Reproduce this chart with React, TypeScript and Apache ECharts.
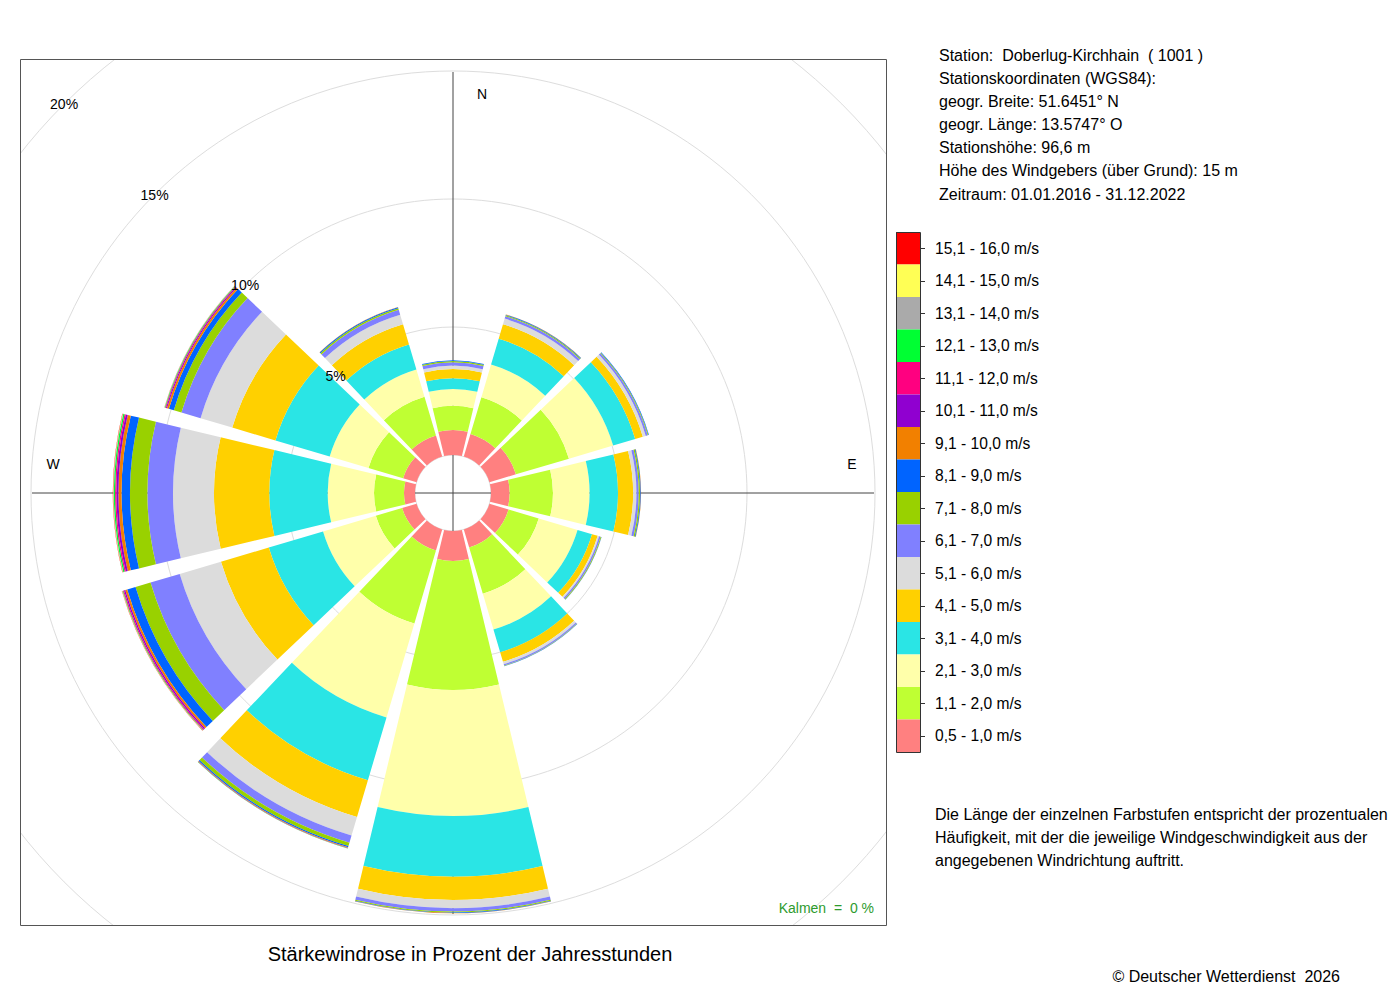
import React, { useEffect, useRef } from 'react';
import * as echarts from 'echarts';

// Wind directions (12 sectors, 30° each), clockwise from north
const directions = ['N', 'NNO', 'ONO', 'O', 'OSO', 'SSO', 'S', 'SSW', 'WSW', 'W', 'WNW', 'NNW'];

// Speed classes (m/s) and their colours
const speedClasses = [
  '0,5 - 1,0 m/s', '1,1 - 2,0 m/s', '2,1 - 3,0 m/s', '3,1 - 4,0 m/s',
  '4,1 - 5,0 m/s', '5,1 - 6,0 m/s', '6,1 - 7,0 m/s', '7,1 - 8,0 m/s',
  '8,1 - 9,0 m/s', '9,1 - 10,0 m/s', '10,1 - 11,0 m/s', '11,1 - 12,0 m/s',
  '12,1 - 13,0 m/s', '13,1 - 14,0 m/s', '14,1 - 15,0 m/s', '15,1 - 16,0 m/s',
];
const classColors = [
  '#FF8080', '#BFFF33', '#FFFFAA', '#2AE5E5',
  '#FFD000', '#DCDCDC', '#8080FF', '#99D100',
  '#0064FF', '#F28000', '#9000D0', '#FF0080',
  '#00FF33', '#AAAAAA', '#FFFF55', '#FF0000',
];

// Percent of yearly hours per direction (N … NNW) for each speed class
const v05_10 = [0.98, 0.92, 1.08, 0.73, 0.78, 0.74, 1.17, 0.86, 0.59, 0.43, 0.55, 0.86];
const v11_20 = [0.94, 1.5, 2.16, 1.69, 1.23, 1.88, 5.04, 2.97, 1.07, 1.17, 1.41, 1.58];
const v21_30 = [0.66, 1.33, 1.8, 1.43, 1.58, 1.46, 4.92, 3.83, 2.15, 1.81, 1.58, 1.11];
const v31_40 = [0.42, 1.05, 0.9, 1.11, 0.59, 0.92, 2.37, 2.56, 2.21, 2.28, 2.21, 1.02];
const v41_50 = [0.36, 0.59, 0.31, 0.59, 0.23, 0.39, 0.91, 1.5, 1.95, 2.16, 1.76, 0.82];
const v51_60 = [0.13, 0.23, 0.12, 0.13, 0.06, 0.1, 0.32, 0.75, 1.68, 1.6, 1.29, 0.39];
const v61_70 = [0.13, 0.1, 0.08, 0.09, 0.06, 0.05, 0.13, 0.29, 1.19, 1.0, 0.78, 0.2];
const v71_80 = [0.05, 0.04, 0.03, 0.05, 0.03, 0.02, 0.04, 0.14, 0.61, 0.68, 0.31, 0.06];
const v81_90 = [0.03, 0.02, 0.02, 0.03, 0.01, 0.01, 0.02, 0.05, 0.34, 0.33, 0.2, 0.04];
const v91_100 = [0, 0.01, 0, 0.01, 0, 0, 0.01, 0.02, 0.08, 0.12, 0.08, 0.01];
const v101_110 = [0, 0, 0, 0, 0, 0, 0, 0.01, 0.05, 0.08, 0.04, 0];
const v111_120 = [0, 0, 0, 0, 0, 0, 0, 0.01, 0.04, 0.05, 0.03, 0];
const v121_130 = [0, 0, 0, 0, 0, 0, 0, 0.01, 0.02, 0.05, 0.02, 0];
const v131_140 = [0, 0, 0, 0, 0, 0, 0, 0, 0.01, 0.02, 0.01, 0];
const v141_150 = [0, 0, 0, 0, 0, 0, 0, 0, 0.01, 0.01, 0.005, 0];
const v151_160 = [0, 0, 0, 0, 0, 0, 0, 0, 0.01, 0.01, 0.005, 0];

const classValues = [
  v05_10, v11_20, v21_30, v31_40, v41_50, v51_60, v61_70, v71_80,
  v81_90, v91_100, v101_110, v111_120, v121_130, v131_140, v141_150, v151_160,
];

// Radius axis (percent rings)
const ringMax = 20;
const ringStep = 5;

const stationInfo = [
  'Station:  Doberlug-Kirchhain  ( 1001 )',
  'Stationskoordinaten (WGS84):',
  'geogr. Breite: 51.6451° N',
  'geogr. Länge: 13.5747° O',
  'Stationshöhe: 96,6 m',
  'Höhe des Windgebers (über Grund): 15 m',
  'Zeitraum: 01.01.2016 - 31.12.2022',
];
const noteLines = [
  'Die Länge der einzelnen Farbstufen entspricht der prozentualen',
  'Häufigkeit, mit der die jeweilige Windgeschwindigkeit aus der',
  'angegebenen Windrichtung auftritt.',
];
const chartTitle = 'Stärkewindrose in Prozent der Jahresstunden';
const calmText = 'Kalmen  =  0 %';
const copyrightText = '© Deutscher Wetterdienst  2026';
const compassLabels = [
  { text: 'N', x: 482, y: 94 },
  { text: 'E', x: 852, y: 464 },
  { text: 'W', x: 53, y: 464 },
];

const FONT = 'Liberation Sans, Arial, Helvetica, sans-serif';
const CX = 453;
const CY = 493;
const R0 = 38;
const R1 = 550;
const BOX = { x: 20, y: 59, w: 866, h: 866 };
const LEG = { x: 896, y: 232, w: 24, h: 32.5 };

function buildOption() {
  const graphic: any[] = [];
  // masks outside the plot box (clip rings)
  const maskStyle = { fill: '#ffffff' };
  graphic.push(
    { type: 'rect', z: 3, silent: true, shape: { x: 0, y: 0, width: 1400, height: BOX.y }, style: maskStyle },
    { type: 'rect', z: 3, silent: true, shape: { x: 0, y: BOX.y + BOX.h, width: 1400, height: 1000 - BOX.y - BOX.h }, style: maskStyle },
    { type: 'rect', z: 3, silent: true, shape: { x: 0, y: 0, width: BOX.x, height: 1000 }, style: maskStyle },
    { type: 'rect', z: 3, silent: true, shape: { x: BOX.x + BOX.w, y: 0, width: 1400 - BOX.x - BOX.w, height: 1000 }, style: maskStyle },
  );
  // plot box
  graphic.push({
    type: 'rect', z: 4, silent: true,
    shape: { x: BOX.x + 0.5, y: BOX.y + 0.5, width: BOX.w, height: BOX.h },
    style: { fill: 'none', stroke: '#555555', lineWidth: 1 },
  });
  // legend frame and ticks
  const n = speedClasses.length;
  graphic.push({
    type: 'rect', z: 8, silent: true,
    shape: { x: LEG.x + 0.5, y: LEG.y + 0.5, width: LEG.w, height: LEG.h * n },
    style: { fill: 'none', stroke: '#333333', lineWidth: 1 },
  });
  for (let k = 0; k < n; k++) {
    const y = Math.round(LEG.y + LEG.h * (k + 0.5)) + 0.5;
    graphic.push({
      type: 'line', z: 8, silent: true,
      shape: { x1: LEG.x + LEG.w, y1: y, x2: LEG.x + LEG.w + 5, y2: y },
      style: { stroke: '#333333', lineWidth: 1 },
    });
  }
  // compass letters
  compassLabels.forEach((c) => {
    graphic.push({
      type: 'text', z: 10, silent: true, x: c.x, y: c.y,
      style: { text: c.text, fontSize: 14, fontFamily: FONT, fill: '#000', align: 'center', verticalAlign: 'middle' },
    });
  });
  // station info
  stationInfo.forEach((t, i) => {
    graphic.push({
      type: 'text', z: 10, silent: true, x: 939, y: 55 + i * 23.17,
      style: { text: t, fontSize: 16, fontFamily: FONT, fill: '#000', align: 'left', verticalAlign: 'middle' },
    });
  });
  noteLines.forEach((t, i) => {
    graphic.push({
      type: 'text', z: 10, silent: true, x: 935, y: 814 + i * 23,
      style: { text: t, fontSize: 16, fontFamily: FONT, fill: '#000', align: 'left', verticalAlign: 'middle' },
    });
  });
  graphic.push({
    type: 'text', z: 10, silent: true, x: 874, y: 908,
    style: { text: calmText, fontSize: 14, fontFamily: FONT, fill: '#2E9B2E', align: 'right', verticalAlign: 'middle' },
  });
  graphic.push({
    type: 'text', z: 10, silent: true, x: 1340, y: 976,
    style: { text: copyrightText, fontSize: 16, fontFamily: FONT, fill: '#000', align: 'right', verticalAlign: 'middle' },
  });

  return {
    animation: false,
    backgroundColor: '#ffffff',
    textStyle: { fontFamily: FONT },
    title: {
      text: chartTitle,
      left: 470,
      top: 944,
      textAlign: 'center',
      padding: 0,
      textStyle: { fontSize: 20, fontWeight: 'normal', color: '#000', fontFamily: FONT },
    },
    polar: [
      { center: [CX, CY], radius: [R0, R1] },
      { center: [CX, CY], radius: [R0, R1] },
      { center: [CX, CY], radius: [0, 421] },
    ],
    angleAxis: [
      {
        polarIndex: 0, type: 'category', data: directions, startAngle: 105, clockwise: true,
        boundaryGap: true,
        axisLine: { show: false }, axisTick: { show: false }, axisLabel: { show: false },
        splitLine: { show: false }, splitArea: { show: false },
      },
      {
        polarIndex: 1, type: 'value', min: 0, max: 360, startAngle: 135,
        axisLine: { show: false }, axisTick: { show: false }, axisLabel: { show: false },
        splitLine: { show: false },
      },
      {
        polarIndex: 2, type: 'value', min: 0, max: 360, interval: 90, startAngle: 90, clockwise: true,
        axisLine: { show: false }, axisTick: { show: false }, axisLabel: { show: false },
        splitLine: { show: true, lineStyle: { color: '#444444', width: 1 } },
      },
    ],
    radiusAxis: [
      {
        polarIndex: 0, type: 'value', min: 0, max: ringMax, interval: ringStep,
        axisLine: { show: false }, axisTick: { show: false }, axisLabel: { show: false },
        splitLine: { show: true, lineStyle: { color: '#dddddd', width: 1 } },
      },
      {
        polarIndex: 1, type: 'value', min: 0, max: ringMax, interval: ringStep, z: 10,
        axisLine: { show: false }, axisTick: { show: false }, splitLine: { show: false },
        axisLabel: {
          show: true, showMinLabel: false, formatter: '{value}%', margin: 0,
          align: 'center', verticalAlign: 'middle', rotate: 0,
          fontSize: 14, color: '#000', fontFamily: FONT,
        },
      },
      {
        polarIndex: 2, type: 'value', min: 0, max: 1,
        axisLine: { show: false }, axisTick: { show: false }, axisLabel: { show: false },
        splitLine: { show: false },
      },
    ],
    legend: {
      data: [...speedClasses].reverse(),
      orient: 'vertical',
      left: LEG.x,
      top: LEG.y,
      padding: 0,
      itemWidth: LEG.w,
      itemHeight: LEG.h,
      itemGap: 0,
      icon: 'rect',
      selectedMode: false,
      textStyle: { fontSize: 15.6, color: '#000', fontFamily: FONT, padding: [0, 0, 0, 10] },
    },
    series: speedClasses.map((name, i) => ({
      type: 'bar',
      name,
      coordinateSystem: 'polar',
      polarIndex: 0,
      stack: 'wind',
      barCategoryGap: '10%',
      data: classValues[i],
      itemStyle: { color: classColors[i] },
      emphasis: { disabled: true },
      silent: true,
    })),
    graphic,
  };
}

export default function App() {
  const ref = useRef<HTMLDivElement>(null);
  useEffect(() => {
    document.body.style.margin = '0';
    const chart = echarts.init(ref.current as HTMLDivElement, null, { renderer: 'svg' });
    chart.setOption(buildOption() as any);
    return () => chart.dispose();
  }, []);
  return <div ref={ref} style={{ width: 1400, height: 1000 }} />;
}
